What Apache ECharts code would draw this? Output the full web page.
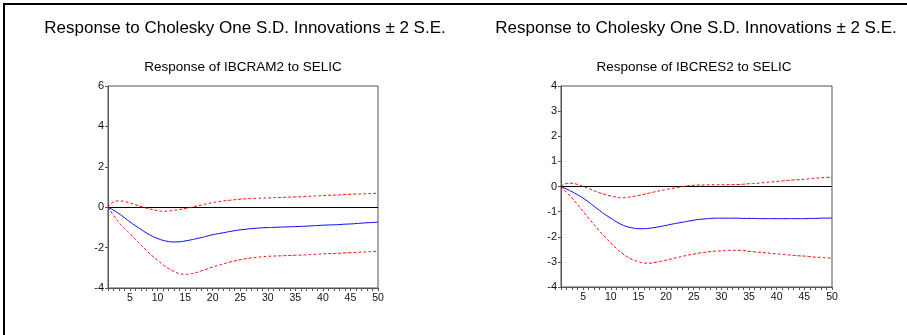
<!DOCTYPE html>
<html><head><meta charset="utf-8">
<script src="https://cdn.jsdelivr.net/npm/echarts@6/dist/echarts.min.js"></script>
<style>html,body{margin:0;padding:0;background:#fff}#c{width:907px;height:335px}</style>
</head><body><div id="c"></div>
<script>
const periods = Array.from({length: 50}, (_, i) => String(i + 1));
const mainTitle = "Response to Cholesky One S.D. Innovations \u00b1 2 S.E.";
const subTitleLeft = "Response of IBCRAM2 to SELIC";
const subTitleRight = "Response of IBCRES2 to SELIC";

const leftResp = [0,-0.15,-0.32,-0.52,-0.73,-0.92,-1.1,-1.28,-1.43,-1.55,-1.64,-1.7,-1.72,-1.71,-1.67,-1.62,-1.56,-1.5,-1.43,-1.36,-1.31,-1.26,-1.21,-1.16,-1.12,-1.09,-1.06,-1.04,-1.02,-1.01,-1.0,-0.99,-0.98,-0.97,-0.96,-0.95,-0.94,-0.92,-0.91,-0.89,-0.88,-0.87,-0.86,-0.84,-0.83,-0.81,-0.79,-0.77,-0.76,-0.74];
const leftUpper = [0,0.26,0.31,0.28,0.21,0.12,0.03,-0.05,-0.11,-0.17,-0.2,-0.19,-0.15,-0.11,-0.07,-0.01,0.05,0.11,0.17,0.23,0.27,0.31,0.34,0.37,0.4,0.42,0.43,0.44,0.45,0.46,0.47,0.48,0.49,0.5,0.51,0.52,0.53,0.55,0.56,0.58,0.59,0.6,0.61,0.63,0.64,0.65,0.66,0.67,0.68,0.69];
const leftLower = [0,-0.4,-0.76,-1.05,-1.31,-1.6,-1.88,-2.15,-2.4,-2.63,-2.85,-3.04,-3.18,-3.29,-3.32,-3.3,-3.24,-3.15,-3.06,-2.96,-2.88,-2.8,-2.72,-2.66,-2.6,-2.55,-2.51,-2.48,-2.45,-2.43,-2.42,-2.41,-2.4,-2.39,-2.38,-2.37,-2.36,-2.34,-2.33,-2.31,-2.3,-2.29,-2.28,-2.26,-2.25,-2.24,-2.22,-2.21,-2.19,-2.18];

const rightResp = [0,-0.1,-0.21,-0.33,-0.46,-0.62,-0.79,-0.96,-1.12,-1.26,-1.4,-1.52,-1.6,-1.65,-1.68,-1.68,-1.66,-1.63,-1.59,-1.55,-1.5,-1.46,-1.42,-1.38,-1.34,-1.31,-1.29,-1.27,-1.26,-1.26,-1.26,-1.26,-1.26,-1.27,-1.27,-1.27,-1.28,-1.28,-1.28,-1.28,-1.28,-1.28,-1.28,-1.28,-1.28,-1.27,-1.27,-1.26,-1.26,-1.25];
const rightUpper = [0,0.12,0.13,0.08,0,-0.08,-0.17,-0.25,-0.32,-0.38,-0.42,-0.45,-0.43,-0.4,-0.36,-0.31,-0.26,-0.21,-0.16,-0.12,-0.08,-0.04,0,0.03,0.05,0.06,0.06,0.07,0.07,0.07,0.07,0.08,0.08,0.09,0.11,0.12,0.14,0.16,0.18,0.2,0.22,0.24,0.26,0.27,0.29,0.31,0.33,0.35,0.36,0.38];
const rightLower = [0,-0.23,-0.46,-0.72,-0.99,-1.26,-1.52,-1.78,-2.02,-2.25,-2.46,-2.65,-2.8,-2.91,-2.99,-3.05,-3.05,-3.02,-2.98,-2.93,-2.88,-2.83,-2.78,-2.73,-2.69,-2.65,-2.62,-2.59,-2.57,-2.56,-2.55,-2.54,-2.54,-2.55,-2.58,-2.6,-2.62,-2.64,-2.66,-2.68,-2.7,-2.72,-2.74,-2.76,-2.77,-2.79,-2.81,-2.82,-2.84,-2.85];

const FONT = '"Liberation Sans", Arial, sans-serif';
const axisCol = '#555';

function xAxis(gi) {
  return {
    type: 'category', gridIndex: gi, data: periods, boundaryGap: false,
    axisLine: {onZero: false, lineStyle: {color: axisCol, width: 1}},
    axisTick: {show: true, interval: 0, length: 3, lineStyle: {color: axisCol}},
    axisLabel: {interval: (i, v) => Number(v) % 5 === 0, fontFamily: FONT, fontSize: 10.5, color: '#111', margin: 5},
    splitLine: {show: false}
  };
}
function yAxis(gi, mn, mx, iv) {
  return {
    type: 'value', gridIndex: gi, min: mn, max: mx, interval: iv,
    axisLine: {show: true, onZero: false, lineStyle: {color: axisCol, width: 1}},
    axisTick: {show: true, length: 3, lineStyle: {color: axisCol}},
    axisLabel: {fontFamily: FONT, fontSize: 11, color: '#111', margin: 4},
    splitLine: {show: false}
  };
}
function series(gi, resp, up, lo) {
  const red = {color: '#ff0000', width: 1, type: [3, 2]};
  return [
    {type: 'line', xAxisIndex: gi, yAxisIndex: gi, data: up, symbol: 'none', smooth: true, lineStyle: red, z: 3},
    {type: 'line', xAxisIndex: gi, yAxisIndex: gi, data: lo, symbol: 'none', smooth: true, lineStyle: red, z: 3},
    {type: 'line', xAxisIndex: gi, yAxisIndex: gi, data: resp, symbol: 'none', smooth: true,
     lineStyle: {color: '#0000ff', width: 1}, z: 4,
     markLine: {silent: true, symbol: 'none', label: {show: false},
       lineStyle: {color: '#000', width: 1, type: 'solid'}, data: [{yAxis: 0}], z: 2}}
  ];
}

const chart = echarts.init(document.getElementById('c'), null, {renderer: 'canvas'});
chart.setOption({
  animation: false,
  backgroundColor: '#fff',
  title: [
    {text: mainTitle, left: 245, top: 20, textAlign: 'center', padding: 0,
     textStyle: {fontFamily: FONT, fontSize: 17, fontWeight: 'normal', color: '#000'}},
    {text: mainTitle, left: 696, top: 20, textAlign: 'center', padding: 0,
     textStyle: {fontFamily: FONT, fontSize: 17, fontWeight: 'normal', color: '#000'}},
    {text: subTitleLeft, left: 243, top: 60, textAlign: 'center', padding: 0,
     textStyle: {fontFamily: FONT, fontSize: 13.5, fontWeight: 'normal', color: '#000'}},
    {text: subTitleRight, left: 694, top: 60, textAlign: 'center', padding: 0,
     textStyle: {fontFamily: FONT, fontSize: 13.5, fontWeight: 'normal', color: '#000'}}
  ],
  grid: [
    {left: 108, top: 86, width: 270, height: 202, show: true, borderColor: axisCol, borderWidth: 1, backgroundColor: 'transparent'},
    {left: 561, top: 86, width: 271, height: 201, show: true, borderColor: axisCol, borderWidth: 1, backgroundColor: 'transparent'}
  ],
  xAxis: [xAxis(0), xAxis(1)],
  yAxis: [yAxis(0, -4, 6, 2), yAxis(1, -4, 4, 1)],
  series: [...series(0, leftResp, leftUpper, leftLower), ...series(1, rightResp, rightUpper, rightLower)],
  graphic: [
    {type: 'line', shape: {x1: 4, y1: 4, x2: 907, y2: 4}, style: {stroke: '#000', lineWidth: 2}, z: 10},
    {type: 'line', shape: {x1: 4, y1: 3, x2: 4, y2: 335}, style: {stroke: '#000', lineWidth: 2}, z: 10}
  ]
});
</script></body></html>
